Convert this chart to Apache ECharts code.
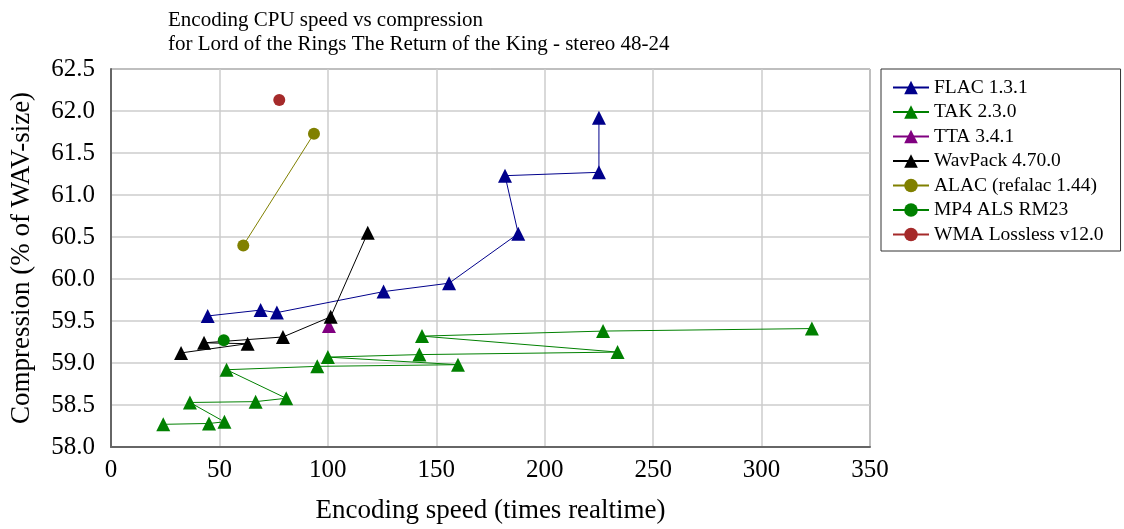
<!DOCTYPE html>
<html><head><meta charset="utf-8">
<script src="https://cdn.jsdelivr.net/npm/echarts@6/dist/echarts.min.js"></script>
<style>html,body{margin:0;padding:0;background:#fff}#c{width:1124px;height:529px}</style>
</head><body><div id="c"></div>
<script>
var titleLines = ['Encoding CPU speed vs compression', 'for Lord of the Rings The Return of the King - stereo 48-24'];
var xTicks = [0, 50, 100, 150, 200, 250, 300, 350];
var yTicks = [58.0, 58.5, 59.0, 59.5, 60.0, 60.5, 61.0, 61.5, 62.0, 62.5];
var seriesNames = ['FLAC 1.3.1', 'TAK 2.3.0', 'TTA 3.4.1', 'WavPack 4.70.0', 'ALAC (refalac 1.44)', 'MP4 ALS RM23', 'WMA Lossless v12.0'];
var flac = [[44.6,59.56],[69.0,59.63],[76.5,59.60],[125.7,59.85],[155.9,59.95],[187.8,60.54],[181.7,61.23],[225.0,61.27],[225.0,61.92]];
var tak = [[24.1,58.27],[45.2,58.28],[52.3,58.30],[36.4,58.53],[66.7,58.54],[80.8,58.58],[53.3,58.92],[95.1,58.96],[160.0,58.98],[100.0,59.07],[142.2,59.10],[233.6,59.13],[143.4,59.32],[226.9,59.38],[323.2,59.41]];
var tta = [[100.5,59.44]];
var wavpack = [[32.3,59.12],[63.0,59.23],[42.9,59.24],[79.3,59.31],[101.3,59.55],[118.4,60.55]];
var alac = [[61.0,60.40],[93.6,61.73]];
var mp4als = [[52.0,59.27]];
var wma = [[77.6,62.13]];

var colors = ['#00008b', '#008000', '#800080', '#000000', '#808000', '#008000', '#a52a2a'];
var symbols = ['triangle', 'triangle', 'triangle', 'triangle', 'circle', 'circle', 'circle'];
var datasets = [flac, tak, tta, wavpack, alac, mp4als, wma];
var font = '"Liberation Serif", "DejaVu Serif", serif';

var series = datasets.map(function (d, i) {
  return {
    name: seriesNames[i], type: 'line', data: d,
    symbol: symbols[i], symbolSize: symbols[i] === 'triangle' ? 14 : 12,
    showAllSymbol: true,
    lineStyle: { color: colors[i], width: 1 },
    itemStyle: { color: colors[i], borderWidth: 0 },
    emphasis: { disabled: true }, animation: false
  };
});

var chart = echarts.init(document.getElementById('c'));
chart.setOption({
  animation: false,
  title: {
    text: titleLines.join('\n'), left: 163, top: 3,
    textStyle: { fontFamily: font, fontSize: 21, fontWeight: 'normal', color: '#000', lineHeight: 24 }
  },
  grid: { left: 111, right: 254, top: 69, bottom: 81, show: true, borderColor: '#333', borderWidth: 1 },
  legend: {
    orient: 'vertical', left: 881, top: 69, data: seriesNames,
    itemWidth: 36, itemHeight: 17, itemGap: 3.5,
    padding: [8, 17, 6, 11],
    borderColor: '#333', borderWidth: 1,
    textStyle: { fontFamily: font, fontSize: 19.5, color: '#000', lineHeight: 21 }
  },
  xAxis: {
    type: 'value', min: xTicks[0], max: xTicks[xTicks.length - 1], interval: 50,
    name: 'Encoding speed (times realtime)', nameLocation: 'middle', nameGap: 50,
    nameTextStyle: { fontFamily: font, fontSize: 27, color: '#000' },
    axisLine: { show: true, lineStyle: { color: '#666', width: 2 } },
    axisTick: { show: false },
    axisLabel: { fontFamily: font, fontSize: 25, color: '#000', margin: 11 },
    splitLine: { show: true, lineStyle: { color: '#ccc', width: 1.5 } }
  },
  yAxis: {
    type: 'value', min: yTicks[0], max: yTicks[yTicks.length - 1], interval: 0.5,
    name: 'Compression (% of WAV-size)', nameLocation: 'middle', nameGap: 76,
    nameTextStyle: { fontFamily: font, fontSize: 27, color: '#000' },
    axisLine: { show: true, lineStyle: { color: '#666', width: 2 } },
    axisTick: { show: false },
    axisLabel: { fontFamily: font, fontSize: 25, color: '#000', margin: 16, formatter: function (v) { return v.toFixed(1); } },
    splitLine: { show: true, lineStyle: { color: '#ccc', width: 1.5 } }
  },
  series: series
});
</script></body></html>
